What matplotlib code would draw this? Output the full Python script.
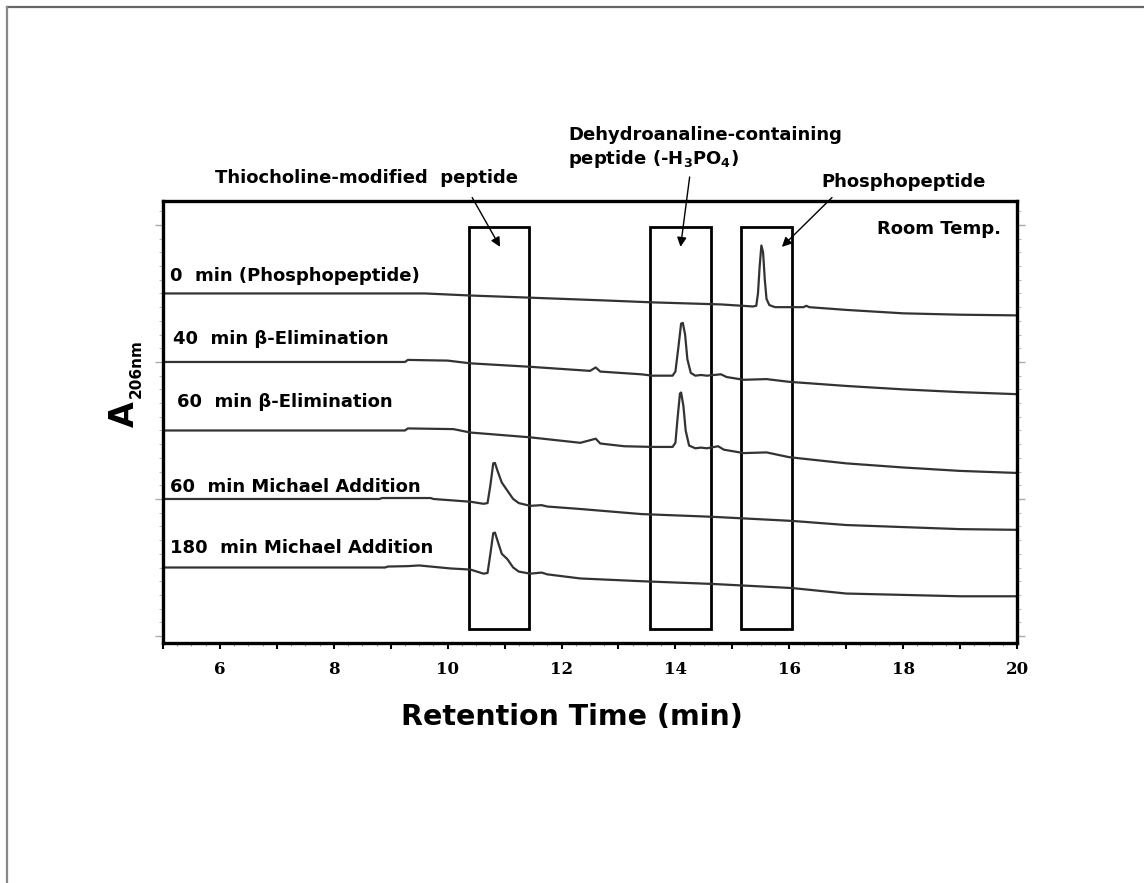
import numpy as np
import matplotlib.pyplot as plt
from matplotlib.lines import Line2D
from matplotlib.patches import Rectangle
from matplotlib.ticker import MultipleLocator, FixedLocator

# HPLC traces, retention time (min) vs A206 (a.u., relative to each trace's own start)
labels = ["0  min (Phosphopeptide)", "40  min \u03b2-Elimination", "60  min \u03b2-Elimination",
          "60  min Michael Addition", "180  min Michael Addition"]
offsets = [2.5, 2.0, 1.5, 1.0, 0.5]

t0 = [5.0, 9.6, 10.4, 11.4, 12.7, 13.6, 14.8, 15.36, 15.42, 15.45, 15.48, 15.51, 15.54, 15.57,
      15.60, 15.65, 15.75, 16.25, 16.3, 16.35, 17.0, 18.0, 19.0, 20.0]
a0 = [0.0, 0.0, -0.015, -0.03, -0.05, -0.065, -0.08, -0.095, -0.09, 0.0, 0.2, 0.35, 0.3, 0.1,
      -0.04, -0.085, -0.1, -0.1, -0.09, -0.1, -0.12, -0.145, -0.155, -0.16]

t1 = [5.0, 9.25, 9.3, 10.0, 10.4, 11.44, 12.5, 12.6, 12.68, 13.4, 13.6, 13.95, 14.0, 14.05,
      14.1, 14.13, 14.17, 14.21, 14.27, 14.35, 14.45, 14.55, 14.8, 14.9, 15.2, 15.6, 16.0,
      17.0, 18.0, 19.0, 20.0]
a1 = [0.0, 0.0, 0.015, 0.01, -0.01, -0.035, -0.065, -0.04, -0.07, -0.09, -0.1, -0.1, -0.07, 0.1,
      0.28, 0.285, 0.2, 0.02, -0.08, -0.1, -0.095, -0.1, -0.09, -0.11, -0.13, -0.125, -0.145,
      -0.175, -0.2, -0.22, -0.235]

t2 = [5.0, 9.25, 9.3, 10.1, 10.4, 11.45, 12.33, 12.6, 12.68, 13.1, 13.6, 13.95, 14.0, 14.04,
      14.08, 14.1, 14.14, 14.18, 14.24, 14.35, 14.45, 14.55, 14.75, 14.85, 15.2, 15.6, 16.0,
      17.0, 18.0, 19.0, 20.0]
a2 = [0.0, 0.0, 0.015, 0.01, -0.015, -0.05, -0.09, -0.06, -0.095, -0.115, -0.12, -0.12, -0.09,
      0.1, 0.27, 0.277, 0.18, 0.0, -0.11, -0.13, -0.125, -0.13, -0.115, -0.14, -0.165, -0.16,
      -0.195, -0.24, -0.27, -0.295, -0.31]

t3 = [5.0, 8.8, 8.85, 9.7, 9.75, 10.4, 10.63, 10.7, 10.75, 10.8, 10.83, 10.88, 10.95, 11.05,
      11.15, 11.25, 11.45, 11.65, 11.75, 12.33, 13.4, 14.65, 16.05, 17.0, 18.0, 19.0, 20.0]
a3 = [0.0, 0.0, 0.007, 0.007, 0.0, -0.02, -0.035, -0.03, 0.1, 0.26, 0.263, 0.2, 0.12, 0.06,
      0.0, -0.03, -0.05, -0.045, -0.055, -0.073, -0.11, -0.13, -0.16, -0.19, -0.205, -0.22, -0.225]

t4 = [5.0, 8.9, 8.95, 9.3, 9.5, 9.7, 10.05, 10.4, 10.63, 10.7, 10.75, 10.8, 10.83, 10.88, 10.95,
      11.05, 11.15, 11.25, 11.45, 11.65, 11.75, 12.33, 13.4, 14.65, 16.05, 17.0, 18.0, 19.0, 20.0]
a4 = [0.0, 0.0, 0.007, 0.01, 0.015, 0.007, -0.007, -0.015, -0.045, -0.04, 0.1, 0.25, 0.255,
      0.19, 0.1, 0.06, 0.0, -0.03, -0.045, -0.037, -0.05, -0.08, -0.1, -0.12, -0.15, -0.19,
      -0.2, -0.21, -0.21]

times = [t0, t1, t2, t3, t4]
signals = [a0, a1, a2, a3, a4]

# peak windows (min)
windows = [(10.37, 11.43), (13.55, 14.62), (15.15, 16.05)]

fig = plt.figure(figsize=(11.44, 8.83), dpi=100)
ax = fig.add_axes([0.1425, 0.2718, 0.7465, 0.5006])

for t, a, off in zip(times, signals, offsets):
    ax.plot(t, np.array(a) + off, color='#333333', lw=1.6, solid_joinstyle='round')

for lo, hi in windows:
    ax.add_patch(Rectangle((lo, 0.05), hi - lo, 2.935, fill=False, ec='black', lw=2.0))

lab_pos = [(5.12, 2.63), (5.17, 2.17), (5.24, 1.71), (5.12, 1.09), (5.13, 0.64)]
for txt, (x, y) in zip(labels, lab_pos):
    ax.text(x, y, txt, fontsize=13, fontweight='bold', ha='left', va='center')

ax.text(19.72, 2.97, "Room Temp.", fontsize=13, fontweight='bold', ha='right', va='center')

# peak callouts: text above the frame, arrows pointing into the windows
txt_kw = dict(fontsize=13, fontweight='bold', clip_on=False)
ax.text(8.58, 3.34, "Thiocholine-modified  peptide", ha='center', va='center', **txt_kw)
ax.text(12.12, 3.40, "Dehydroanaline-containing\npeptide (-H$_\\mathbf{3}$PO$_\\mathbf{4}$)",
        ha='left', va='bottom', linespacing=1.25, **txt_kw)
ax.text(18.0, 3.31, "Phosphopeptide", ha='center', va='center', **txt_kw)

arrow = dict(arrowstyle='-|>', color='black', lw=1.0, mutation_scale=14, shrinkA=0, shrinkB=0)
callouts = [((10.43, 3.20), (10.92, 2.84)),
            ((14.25, 3.35), (14.09, 2.84)),
            ((16.75, 3.20), (15.87, 2.84))]
for start, tip in callouts:
    ax.annotate("", xy=tip, xytext=start, arrowprops=arrow, annotation_clip=False)

ax.set_xlim(5, 20)
ax.set_ylim(-0.051, 3.175)

ax.xaxis.set_major_locator(FixedLocator(np.arange(5, 21, 1)))
ax.set_xticklabels(['' if v % 2 else str(v) for v in range(5, 21)])
ax.xaxis.set_minor_locator(MultipleLocator(0.25))
ax.tick_params(axis='x', which='major', direction='out', length=4, width=1.5, pad=9,
               labelsize=12, colors='black')
ax.tick_params(axis='x', which='minor', direction='out', length=2, width=0.8, color='#999999')
for lbl in ax.get_xticklabels():
    lbl.set_fontfamily('DejaVu Serif')
    lbl.set_fontweight('bold')

ax.yaxis.set_major_locator(MultipleLocator(1))
ax.yaxis.set_minor_locator(MultipleLocator(0.1))
ax.tick_params(axis='y', which='both', left=True, right=True, labelleft=False,
               direction='out', color='#aaaaaa')
ax.tick_params(axis='y', which='major', length=6, width=1.0)
ax.tick_params(axis='y', which='minor', length=3, width=0.6)

for s in ax.spines.values():
    s.set_linewidth(2.4)

fig.text(0.5, 0.188, "Retention Time (min)", fontsize=20.5, fontweight='bold',
         ha='center', va='center')
fig.text(0.1084, 0.531, "A", fontsize=24, fontweight='bold', rotation=90,
         ha='center', va='center')
fig.text(0.1189, 0.583, "206nm", fontsize=11, fontweight='bold', rotation=90,
         ha='center', va='center')

# thin grey frame on the top and left edges
fig.add_artist(Line2D([7 / 1144, 1], [1 - 7 / 883, 1 - 7 / 883], color='#666666', lw=1.6))
fig.add_artist(Line2D([7 / 1144, 7 / 1144], [0, 1 - 7 / 883], color='#888888', lw=1.6))

fig.savefig("out.png", dpi=100)
